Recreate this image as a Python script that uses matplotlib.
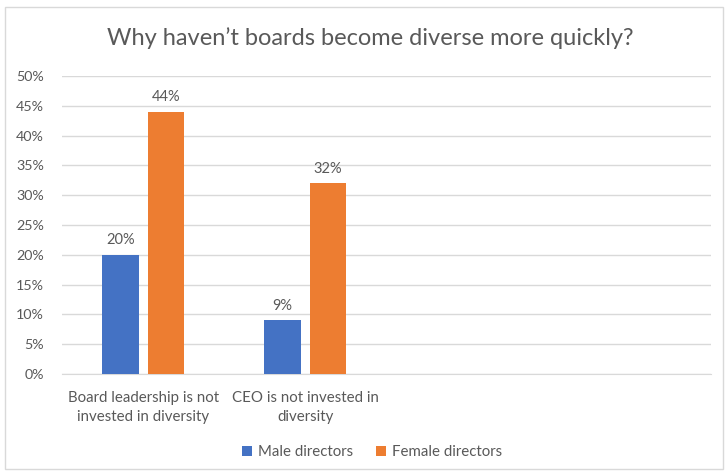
import numpy as np
import matplotlib.pyplot as plt
from matplotlib.patches import Rectangle

plt.rcParams['font.family'] = ['Lato', 'DejaVu Sans']

categories = ['Board leadership is not\ninvested in diversity', 'CEO is not invested in\ndiversity', '', '']
male = [20, 9]
female = [44, 32]
series_names = ['Male directors', 'Female directors']
yticks = [0, 5, 10, 15, 20, 25, 30, 35, 40, 45, 50]

blue = '#4472C4'
orange = '#ED7D31'
txt = '#595959'

fig = plt.figure(figsize=(7.27, 4.72), dpi=100)
ax = fig.add_axes([62/727, 1-374/472, (711-62)/727, (374-76)/472])

fig.patches.append(Rectangle((5/727, 3/472), 718/727, 462/472, transform=fig.transFigure,
                             fill=False, edgecolor='#D9D9D9', linewidth=1))

x = np.arange(len(categories))
w = 0.225
off = 0.14
b1 = ax.bar(x[:len(male)] - off, male, w, color=blue, label=series_names[0], zorder=3)
b2 = ax.bar(x[:len(female)] + off, female, w, color=orange, label=series_names[1], zorder=3)

for bars, vals in ((b1, male), (b2, female)):
    for r, v in zip(bars, vals):
        ax.text(r.get_x() + r.get_width()/2, v + 1.3, f'{v}%', ha='center', va='bottom',
                fontsize=10.5, color=txt)

ax.set_xlim(-0.5, len(categories) - 0.5)
ax.set_ylim(0, 50)
ax.set_yticks(yticks)
ax.set_yticklabels([f'{t}%' for t in yticks], fontsize=10.3, color=txt)
ax.set_xticks(x)
ax.set_xticklabels(categories, fontsize=10.8, color=txt, linespacing=1.45)
ax.tick_params(axis='y', length=0, pad=13)
ax.tick_params(axis='x', length=0, pad=12)
ax.grid(axis='y', color='#D9D9D9', linewidth=1, zorder=0)
for s in ['top', 'right', 'left']:
    ax.spines[s].set_visible(False)
ax.spines['bottom'].set_color('#D9D9D9')

fig.text(370/727, 1-38/472, 'Why haven\u2019t boards become diverse more quickly?',
         ha='center', va='center', fontsize=17, color=txt)

fig.legend(handles=[b1, b2], labels=series_names, loc='center', bbox_to_anchor=(372/727, 1-452/472),
           ncol=2, frameon=False, fontsize=10.8, labelcolor=txt, handlelength=0.7, handleheight=0.7,
           handletextpad=0.4, columnspacing=1.5)

fig.savefig('out.png', dpi=100)
